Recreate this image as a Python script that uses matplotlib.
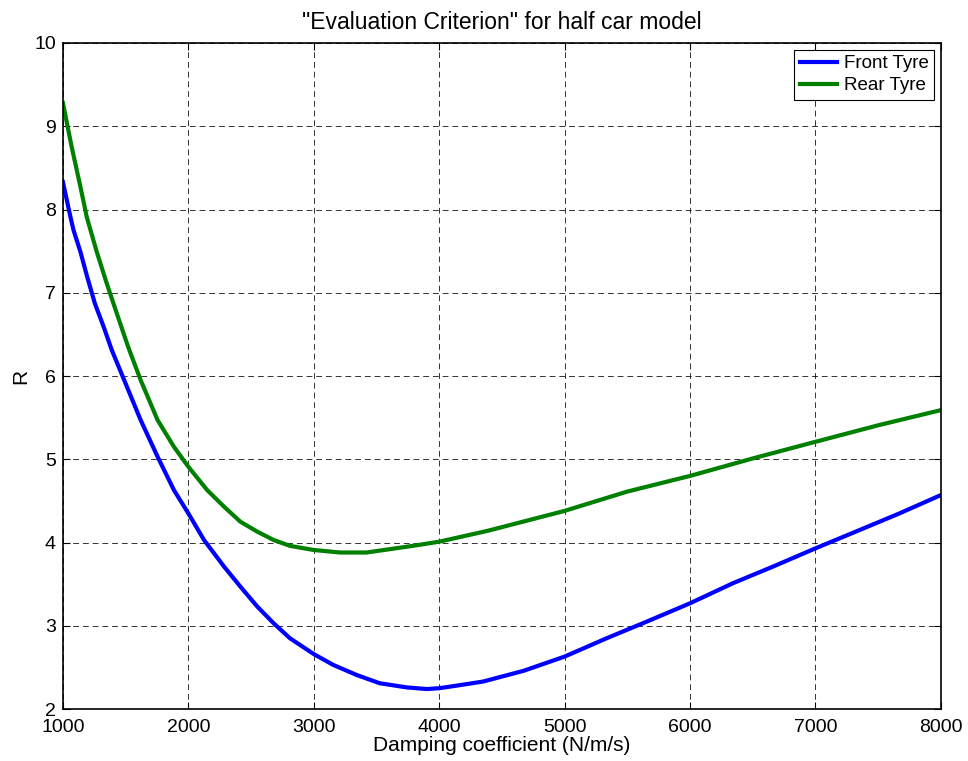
import numpy as np
import matplotlib.pyplot as plt

# Damping coefficient (N/m/s) and evaluation criterion R, front tyre
c_front = [1000, 1060, 1085, 1140, 1190, 1255, 1325, 1390, 1475, 1620,
           1755, 1885, 2000, 2125, 2285, 2415, 2550, 2680, 2810, 3000,
           3155, 3340, 3525, 3740, 3900, 4000, 4135, 4350, 4675, 5000,
           5335, 5655, 6000, 6340, 6660, 7000, 7320, 7670, 8000]
r_front = [8.33, 7.91, 7.75, 7.49, 7.21, 6.87, 6.59, 6.31, 6.00, 5.47,
           5.03, 4.63, 4.35, 4.03, 3.71, 3.47, 3.23, 3.03, 2.85, 2.66,
           2.53, 2.41, 2.31, 2.26, 2.24, 2.25, 2.28, 2.33, 2.46, 2.63,
           2.85, 3.05, 3.27, 3.51, 3.71, 3.93, 4.13, 4.35, 4.57]

# Rear tyre
c_rear = [1000, 1070, 1140, 1190, 1270, 1350, 1430, 1520, 1620, 1755,
          1885, 2000, 2150, 2285, 2415, 2550, 2680, 2810, 3000, 3210,
          3420, 3605, 3790, 4000, 4385, 5000, 5495, 6000, 6500, 7000,
          7505, 8000]
r_rear = [9.28, 8.75, 8.27, 7.91, 7.49, 7.11, 6.75, 6.35, 5.95, 5.47,
          5.15, 4.91, 4.63, 4.43, 4.25, 4.13, 4.03, 3.96, 3.91, 3.88,
          3.88, 3.92, 3.96, 4.01, 4.14, 4.38, 4.61, 4.80, 5.01, 5.21,
          5.41, 5.59]

plt.rcParams['font.family'] = ['Liberation Sans', 'DejaVu Sans']

fig = plt.figure(figsize=(9.68, 7.61), dpi=100)
ax = fig.add_axes([0.065, 0.0683, 0.907, 0.8752])

ax.plot(c_front, r_front, color='#0000FF', linewidth=3, label='Front Tyre')
ax.plot(c_rear, r_rear, color='#008000', linewidth=3, label='Rear Tyre')

ax.set_xlim(1000, 8000)
ax.set_ylim(2, 10)
ax.set_xticks(np.arange(1000, 8001, 1000))
ax.set_yticks(np.arange(2, 11, 1))
ax.tick_params(direction='in', top=True, right=True, labelsize=14, length=5)
ax.tick_params(axis='x', pad=7)
ax.tick_params(axis='y', pad=5)

ax.grid(True, color='black', linestyle=(0, (6, 4)), linewidth=0.7, alpha=0.8)
for s in ax.spines.values():
    s.set_linewidth(1.2)

ax.set_xlabel('Damping coefficient (N/m/s)', fontsize=15, labelpad=0)
ax.set_ylabel('R', fontsize=15, labelpad=3)
ax.set_title('"Evaluation Criterion" for half car model', fontsize=16.5, pad=10)

leg = ax.legend(loc='upper right', fontsize=13.5, fancybox=False, framealpha=1,
                edgecolor='black', handlelength=2.0, borderaxespad=0.35,
                borderpad=0.3, labelspacing=0.25, handletextpad=0.35)
leg.get_frame().set_linewidth(0.8)

fig.savefig('out.png', dpi=100)
